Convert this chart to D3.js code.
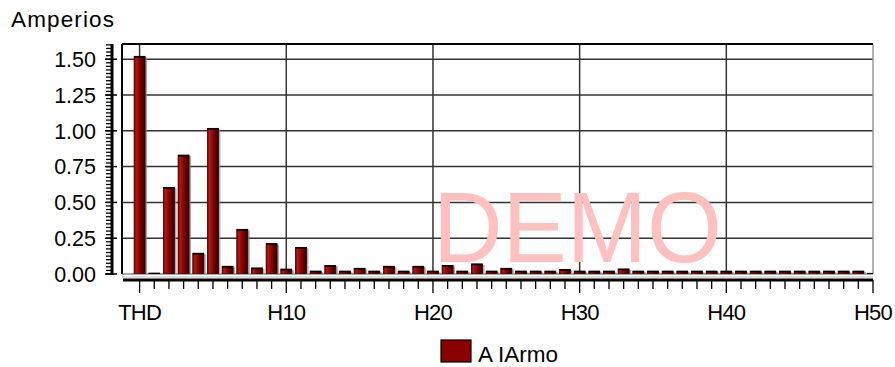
<!DOCTYPE html>
<html>
<head>
<meta charset="utf-8">
<script src="https://cdn.jsdelivr.net/npm/d3@7"></script>
<style>
  html, body { margin: 0; padding: 0; background: #fff; }
  svg { display: block; font-family: "Liberation Sans", Arial, sans-serif; }
</style>
</head>
<body>
<div id="chart"></div>
<script>
// ---- data ----
const categories = ["THD"].concat(d3.range(1, 51).map(i => "H" + i));
const values = [
  1.52, 0.006, 0.605, 0.83, 0.145, 1.017, 0.054, 0.312, 0.042, 0.212,
  0.034, 0.186, 0.02, 0.06, 0.02, 0.04, 0.02, 0.054, 0.02, 0.054,
  0.02, 0.06, 0.02, 0.07, 0.02, 0.04, 0.02, 0.02, 0.02, 0.032,
  0.02, 0.02, 0.02, 0.035, 0.02, 0.02, 0.02, 0.02, 0.02, 0.02,
  0.02, 0.02, 0.02, 0.02, 0.02, 0.02, 0.02, 0.02, 0.02, 0.02,
  0.005
];
const yTicks = [0, 0.25, 0.5, 0.75, 1.0, 1.25, 1.5];
const xLabelTicks = ["THD", "H10", "H20", "H30", "H40", "H50"];
const seriesName = "A IArmo";
const yTitle = "Amperios";

// ---- layout ----
const W = 895, H = 367;
const plot = { left: 122, right: 873, top: 44, bottom: 274 };

const svg = d3.select("#chart").append("svg").attr("width", W).attr("height", H);

const x = d3.scaleLinear().domain([-1.2, 50]).range([plot.left, plot.right]);
const y = d3.scaleLinear().domain([0, 1.6]).range([plot.bottom, plot.bottom - 1.6 * 143.2]);
const xi = c => x(categories.indexOf(c));

const defs = svg.append("defs");
const grad = defs.append("linearGradient").attr("id", "barGrad")
  .attr("x1", "0%").attr("x2", "100%").attr("y1", "0%").attr("y2", "0%");
[["0%", "#6a0000"], ["18%", "#b31818"], ["40%", "#980707"], ["75%", "#5a0000"], ["100%", "#2a0000"]]
  .forEach(([o, c]) => grad.append("stop").attr("offset", o).attr("stop-color", c));
defs.append("clipPath").attr("id", "plotClip").append("rect")
  .attr("x", plot.left).attr("y", plot.top - 2)
  .attr("width", plot.right - plot.left).attr("height", plot.bottom - plot.top + 2);

// ---- gridlines ----
const grid = svg.append("g");
grid.selectAll("line.h").data(yTicks.filter(v => v > 0)).join("line")
  .attr("x1", plot.left).attr("x2", plot.right)
  .attr("y1", d => y(d)).attr("y2", d => y(d))
  .attr("stroke", "#333").attr("stroke-width", 1.5);
grid.selectAll("line.v").data(xLabelTicks.slice(0, 5)).join("line")
  .attr("x1", d => xi(d)).attr("x2", d => xi(d))
  .attr("y1", plot.top).attr("y2", plot.bottom)
  .attr("stroke", "#333").attr("stroke-width", 1.5);

// frame
svg.append("line").attr("x1", plot.right).attr("x2", plot.right)
  .attr("y1", plot.top).attr("y2", plot.bottom).attr("stroke", "#999").attr("stroke-width", 1.5);
svg.append("line").attr("x1", plot.left).attr("x2", plot.right)
  .attr("y1", plot.top).attr("y2", plot.top).attr("stroke", "#000").attr("stroke-width", 2);
svg.append("line").attr("x1", plot.left).attr("x2", plot.left)
  .attr("y1", plot.top).attr("y2", plot.bottom).attr("stroke", "#000").attr("stroke-width", 2);
svg.append("line").attr("x1", plot.left).attr("x2", plot.right)
  .attr("y1", plot.bottom).attr("y2", plot.bottom).attr("stroke", "#555").attr("stroke-width", 1);

// ---- bars ----
const bw = 11;
const bars = svg.append("g").attr("clip-path", "url(#plotClip)");
const data = categories.map((c, i) => ({ c, v: values[i] }));
bars.selectAll("rect.sh").data(data).join("rect")
  .attr("x", d => xi(d.c) - bw / 2 + 2).attr("y", d => y(d.v) + 1)
  .attr("width", bw).attr("height", d => Math.max(0, y(0) - y(d.v) - 1))
  .attr("fill", "#888").attr("opacity", 0.7);
bars.selectAll("rect.b").data(data).join("rect")
  .attr("x", d => xi(d.c) - bw / 2).attr("y", d => y(d.v))
  .attr("width", bw).attr("height", d => y(0) - y(d.v))
  .attr("fill", "url(#barGrad)").attr("stroke", "#3a0000").attr("stroke-width", 0.8);
bars.selectAll("line.top").data(data).join("line")
  .attr("x1", d => xi(d.c) - bw / 2).attr("x2", d => xi(d.c) + bw / 2)
  .attr("y1", d => y(d.v) + 0.5).attr("y2", d => y(d.v) + 0.5)
  .attr("stroke", "#000").attr("stroke-width", 1.6);

// ---- y axis ----
const yAxisX = 112;
const ya = svg.append("g");
ya.append("line").attr("x1", yAxisX).attr("x2", yAxisX)
  .attr("y1", plot.top).attr("y2", plot.bottom + 1).attr("stroke", "#000").attr("stroke-width", 3);
const minorY = d3.range(0, 1.6001, 0.025);
ya.selectAll("line.mn").data(minorY).join("line")
  .attr("x1", yAxisX - 6).attr("x2", yAxisX)
  .attr("y1", d => y(d)).attr("y2", d => y(d))
  .attr("stroke", "#000").attr("stroke-width", 1.3);
ya.selectAll("line.mj").data(yTicks).join("line")
  .attr("x1", yAxisX - 7).attr("x2", yAxisX + 5)
  .attr("y1", d => y(d)).attr("y2", d => y(d))
  .attr("stroke", "#000").attr("stroke-width", 1.5);
ya.selectAll("text").data(yTicks).join("text")
  .attr("x", 96).attr("y", d => y(d)).attr("dy", "0.36em")
  .attr("text-anchor", "end").attr("font-size", 21.5).attr("fill", "#000")
  .text(d => d3.format(".2f")(d));

svg.append("text").attr("x", 11).attr("y", 27).attr("font-size", 22.5)
  .attr("textLength", 103).attr("lengthAdjust", "spacing")
  .attr("fill", "#000").text(yTitle);

// ---- x axis ----
const xAxisY = 280;
const xa = svg.append("g");
xa.append("line").attr("x1", plot.left).attr("x2", plot.right)
  .attr("y1", 277).attr("y2", 277).attr("stroke", "#bbb").attr("stroke-width", 1);
xa.append("line").attr("x1", plot.left + 1).attr("x2", plot.right)
  .attr("y1", xAxisY).attr("y2", xAxisY).attr("stroke", "#000").attr("stroke-width", 3);
xa.selectAll("line.mn").data(categories).join("line")
  .attr("x1", d => xi(d)).attr("x2", d => xi(d))
  .attr("y1", xAxisY).attr("y2", d => xLabelTicks.includes(d) ? 293 : 289)
  .attr("stroke", "#000").attr("stroke-width", 1.3);
xa.selectAll("text").data(xLabelTicks).join("text")
  .attr("x", d => xi(d)).attr("y", 320)
  .attr("text-anchor", "middle").attr("font-size", 22).attr("letter-spacing", -0.8)
  .attr("fill", "#000").text(d => d);

// ---- watermark ----
svg.append("text").attr("x", 433).attr("y", 262).attr("font-size", 101)
  .attr("fill", "#ffc0c0").attr("textLength", 289).attr("lengthAdjust", "spacingAndGlyphs")
  .text("DEMO");

// ---- legend ----
svg.append("rect").attr("x", 441).attr("y", 340).attr("width", 30).attr("height", 22)
  .attr("fill", "#8b0000").attr("stroke", "#000").attr("stroke-width", 1.2);
svg.append("text").attr("x", 478).attr("y", 362).attr("font-size", 22.5)
  .attr("fill", "#000").text(seriesName);
</script>
</body>
</html>
